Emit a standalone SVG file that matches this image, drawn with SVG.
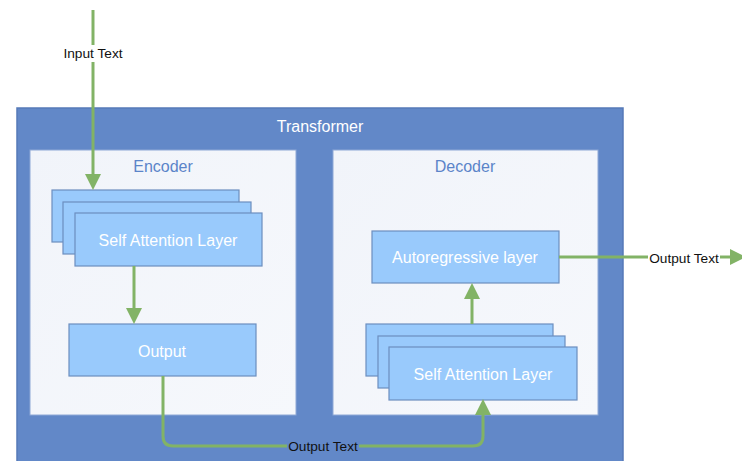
<svg xmlns="http://www.w3.org/2000/svg" width="742" height="461" viewBox="0 0 742 461">
<defs>
<marker id="ah" viewBox="0 0 16 16" refX="12" refY="8" markerWidth="16" markerHeight="16" markerUnits="userSpaceOnUse" orient="auto">
<path d="M0 0 L16 8 L0 16 Z" fill="#82B366"/>
</marker>
<linearGradient id="pane" x1="0" y1="0" x2="1" y2="1">
<stop offset="0" stop-color="#F1F4FA"/>
<stop offset="1" stop-color="#F6F8FC"/>
</linearGradient>
</defs>
<style>
.outer{fill:#6288C8;stroke:#5679B8;stroke-width:1.5}
.pane{fill:url(#pane);stroke:#8EA8D6;stroke-width:1}
.node{fill:#99CAFC;stroke:#6C8EBF;stroke-width:1.2}
.nt{font-family:"Liberation Sans",Arial,sans-serif;font-size:16px;fill:#FFFFFF;text-anchor:middle;dominant-baseline:central}
.pt{font-family:"Liberation Sans",Arial,sans-serif;font-size:16px;fill:#5B84C9;text-anchor:middle;dominant-baseline:central}
.el{font-family:"Liberation Sans",Arial,sans-serif;font-size:13.7px;fill:#111111;text-anchor:middle;dominant-baseline:central}
.edge{fill:none;stroke:#82B366;stroke-width:3}
</style>
<rect width="742" height="461" fill="#FFFFFF"/>
<g id="transformer">
<rect class="outer" x="17" y="108" width="606" height="360"/>
<text class="nt" x="320" y="126">Transformer</text>
</g>
<g id="encoder">
<rect class="pane" x="30" y="150" width="266" height="265"/>
<text class="pt" x="163" y="166">Encoder</text>
</g>
<g id="decoder">
<rect class="pane" x="333" y="150" width="265" height="265"/>
<text class="pt" x="465" y="166">Decoder</text>
</g>
<g id="enc-self-attention">
<rect class="node" x="52" y="190" width="187" height="52"/>
<rect class="node" x="63" y="202" width="188" height="52"/>
<rect class="node" x="75" y="213" width="187" height="53"/>
<text class="nt" x="168" y="240">Self Attention Layer</text>
</g>
<g id="enc-output">
<rect class="node" x="69" y="324" width="187" height="52"/>
<text class="nt" x="162" y="351">Output</text>
</g>
<g id="autoregressive">
<rect class="node" x="372" y="231" width="187" height="52"/>
<text class="nt" x="465" y="257">Autoregressive layer</text>
</g>
<g id="dec-self-attention">
<rect class="node" x="366" y="324" width="187" height="52"/>
<rect class="node" x="378" y="336" width="187" height="52"/>
<rect class="node" x="389" y="347" width="188" height="53"/>
<text class="nt" x="483" y="374">Self Attention Layer</text>
</g>
<g id="connectors">
<path class="edge" d="M93 10 V45"/>
<path class="edge" d="M93 62 V186" marker-end="url(#ah)"/>
<text class="el" x="93" y="53">Input Text</text>
<path class="edge" d="M134 266 V320" marker-end="url(#ah)"/>
<path class="edge" d="M163 376 V436 Q163 446 173 446 H287"/>
<path class="edge" d="M359 446 H473 Q483 446 483 436 V403" marker-end="url(#ah)"/>
<text class="el" x="323" y="446">Output Text</text>
<path class="edge" d="M472 324 V287" marker-end="url(#ah)"/>
<path class="edge" d="M559 257 H648"/>
<path class="edge" d="M720 257 H742" marker-end="url(#ah)"/>
<text class="el" x="684" y="258">Output Text</text>
</g>
</svg>
